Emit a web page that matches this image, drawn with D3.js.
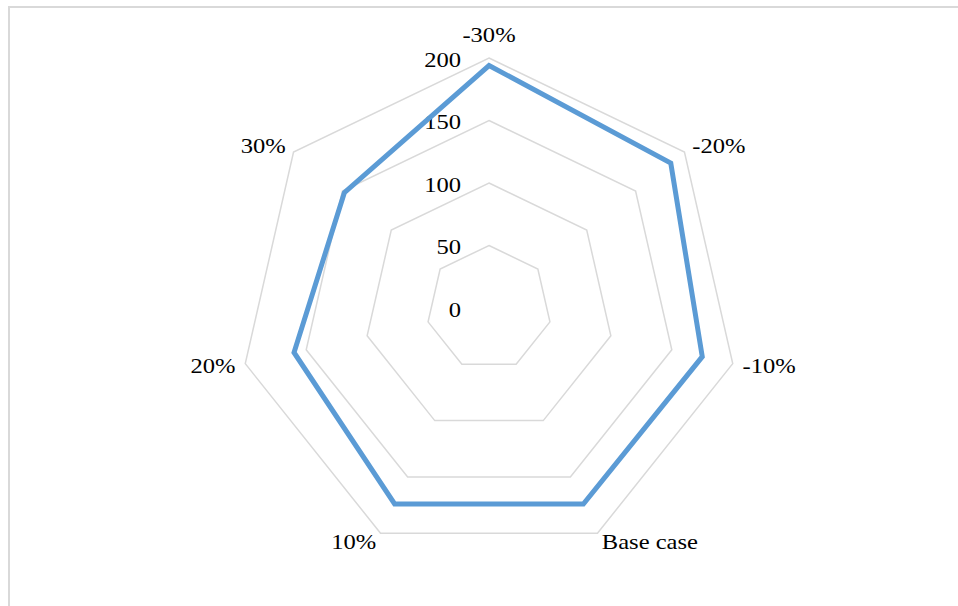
<!DOCTYPE html>
<html>
<head>
<meta charset="utf-8">
<script src="https://cdn.jsdelivr.net/npm/d3@7"></script>
<style>
  html, body { margin: 0; padding: 0; background: #fff; }
  svg { display: block; }
  text { font-family: "Liberation Serif", "Times New Roman", serif; fill: #000; }
</style>
</head>
<body>
<svg id="chart" width="958" height="606"></svg>
<script>
// Scenario categories around the radar, clockwise from the top
const categories = ["-30%", "-20%", "-10%", "Base case", "10%", "20%", "30%"];
// Result for each scenario
const values = [194, 186, 175, 174, 174, 160, 148];
// Radial axis ticks
const ticks = [0, 50, 100, 150, 200];

const width = 958, height = 606;
const cx = 489, cy = 308, R = 250;
const fontSize = 21, stretch = 1.17;

const svg = d3.select("#chart");

// chart frame
svg.append("rect")
  .attr("x", 9).attr("y", 7)
  .attr("width", 1000).attr("height", 700)
  .attr("fill", "none")
  .attr("stroke", "#d9d9d9")
  .attr("stroke-width", 2);

const r = d3.scaleLinear().domain([0, 200]).range([0, R]);
const angle = d3.scalePoint()
  .domain(categories)
  .range([0, 2 * Math.PI * (categories.length - 1) / categories.length]);

const g = svg.append("g").attr("transform", `translate(${cx},${cy})`);

const radial = d3.lineRadial()
  .angle(d => angle(d.cat))
  .radius(d => r(d.v))
  .curve(d3.curveLinearClosed);

// gridline polygons
g.selectAll("path.grid")
  .data(ticks.filter(t => t > 0))
  .join("path")
  .attr("class", "grid")
  .attr("d", t => radial(categories.map(c => ({cat: c, v: t}))))
  .attr("fill", "none")
  .attr("stroke", "#d9d9d9")
  .attr("stroke-width", 1.5);

// tick labels along the vertical axis
g.selectAll("text.tick")
  .data(ticks)
  .join("text")
  .attr("class", "tick")
  .attr("transform", t => `translate(-28,${-r(t) + 2}) scale(${stretch},1)`)
  .attr("text-anchor", "end")
  .attr("dominant-baseline", "central")
  .attr("font-size", fontSize)
  .text(t => t);

// series line
g.append("path")
  .attr("d", radial(categories.map((c, i) => ({cat: c, v: values[i]}))))
  .attr("fill", "none")
  .attr("stroke", "#5b9bd5")
  .attr("stroke-width", 5)
  .attr("stroke-linejoin", "miter");

// category labels
g.selectAll("text.cat")
  .data(categories)
  .join("text")
  .attr("class", "cat")
  .attr("transform", c => {
    const a = angle(c);
    const s = Math.sin(a), k = Math.cos(a);
    let x = (R + 10) * s;
    let y = -(R + 10) * k;
    if (Math.abs(s) < 0.01) y -= 13 * Math.sign(k);
    return `translate(${x},${y}) scale(${stretch},1)`;
  })
  .attr("text-anchor", c => {
    const s = Math.sin(angle(c));
    return Math.abs(s) < 0.01 ? "middle" : (s > 0 ? "start" : "end");
  })
  .attr("dominant-baseline", "central")
  .attr("font-size", fontSize)
  .text(c => c);
</script>
</body>
</html>
